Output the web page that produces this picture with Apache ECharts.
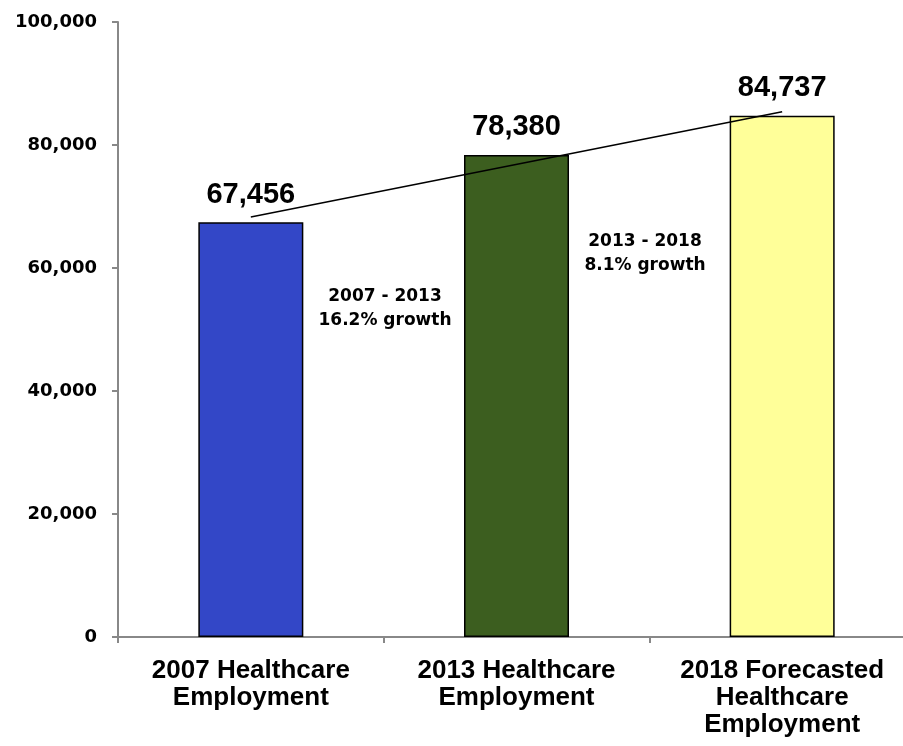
<!DOCTYPE html>
<html>
<head>
<meta charset="utf-8">
<script src="https://cdn.jsdelivr.net/npm/echarts@6/dist/echarts.min.js"></script>
<style>
html,body{margin:0;padding:0;background:#fff;overflow:hidden;width:903px;height:746px;}
#chart{width:915px;height:746px;}
</style>
</head>
<body>
<div id="chart"></div>
<script>
const categories = ['2007 Healthcare\nEmployment', '2013 Healthcare\nEmployment', '2018 Forecasted\nHealthcare\nEmployment'];
const employment = [67456, 78380, 84737];
const barColors = ['#3347C7', '#3C5E1F', '#FFFF99'];
const trendLine = [68300, '-', 85400];
const yTicks = [0, 20000, 40000, 60000, 80000, 100000];
const growthNotes = ['2007 - 2013\n16.2% growth', '2013 - 2018\n8.1% growth'];

const chart = echarts.init(document.getElementById('chart'));
const fmt = v => v.toLocaleString('en-US');

chart.setOption({
  animation: false,
  backgroundColor: '#ffffff',
  grid: { left: 118, top: 22, right: 0, bottom: 109, containLabel: false },
  xAxis: {
    type: 'category',
    data: categories,
    boundaryGap: true,
    axisLine: { show: true, lineStyle: { color: '#888888', width: 2 } },
    axisTick: { show: true, alignWithLabel: false, length: 6, lineStyle: { color: '#888888', width: 2 } },
    axisLabel: {
      interval: 0,
      margin: 20,
      color: '#000000',
      fontFamily: 'Liberation Sans, Arial, sans-serif',
      fontWeight: 'bold',
      fontSize: 26,
      lineHeight: 27
    }
  },
  yAxis: {
    type: 'value',
    min: yTicks[0],
    max: yTicks[yTicks.length - 1],
    interval: yTicks[1] - yTicks[0],
    splitLine: { show: false },
    axisLine: { show: true, lineStyle: { color: '#888888', width: 2 } },
    axisTick: { show: true, length: 6, lineStyle: { color: '#888888', width: 2 } },
    axisLabel: {
      margin: 21,
      color: '#000000',
      fontFamily: 'DejaVu Sans, Verdana, sans-serif',
      fontWeight: 'bold',
      fontSize: 18,
      formatter: v => fmt(v)
    }
  },
  series: [
    {
      type: 'bar',
      barWidth: 105,
      data: employment.map((v, i) => ({
        value: v,
        itemStyle: { color: barColors[i], borderColor: '#000000', borderWidth: 1.5 }
      })),
      label: {
        show: true,
        position: 'top',
        distance: 13,
        color: '#000000',
        fontFamily: 'Liberation Sans, Arial, sans-serif',
        fontWeight: 'bold',
        fontSize: 29,
        lineHeight: 29,
        formatter: p => fmt(p.value)
      },
      z: 2
    },
    {
      type: 'line',
      data: trendLine,
      connectNulls: true,
      symbol: 'none',
      lineStyle: { color: '#000000', width: 1.5 },
      z: 5,
      silent: true
    }
  ],
  graphic: [
    {
      type: 'text', x: 385, y: 309, z: 10,
      style: {
        text: growthNotes[0], align: 'center', verticalAlign: 'middle',
        fill: '#000000', font: 'bold 17px "DejaVu Sans", Verdana, sans-serif', lineHeight: 24
      }
    },
    {
      type: 'text', x: 645, y: 254, z: 10,
      style: {
        text: growthNotes[1], align: 'center', verticalAlign: 'middle',
        fill: '#000000', font: 'bold 17px "DejaVu Sans", Verdana, sans-serif', lineHeight: 24
      }
    }
  ]
});
</script>
</body>
</html>
